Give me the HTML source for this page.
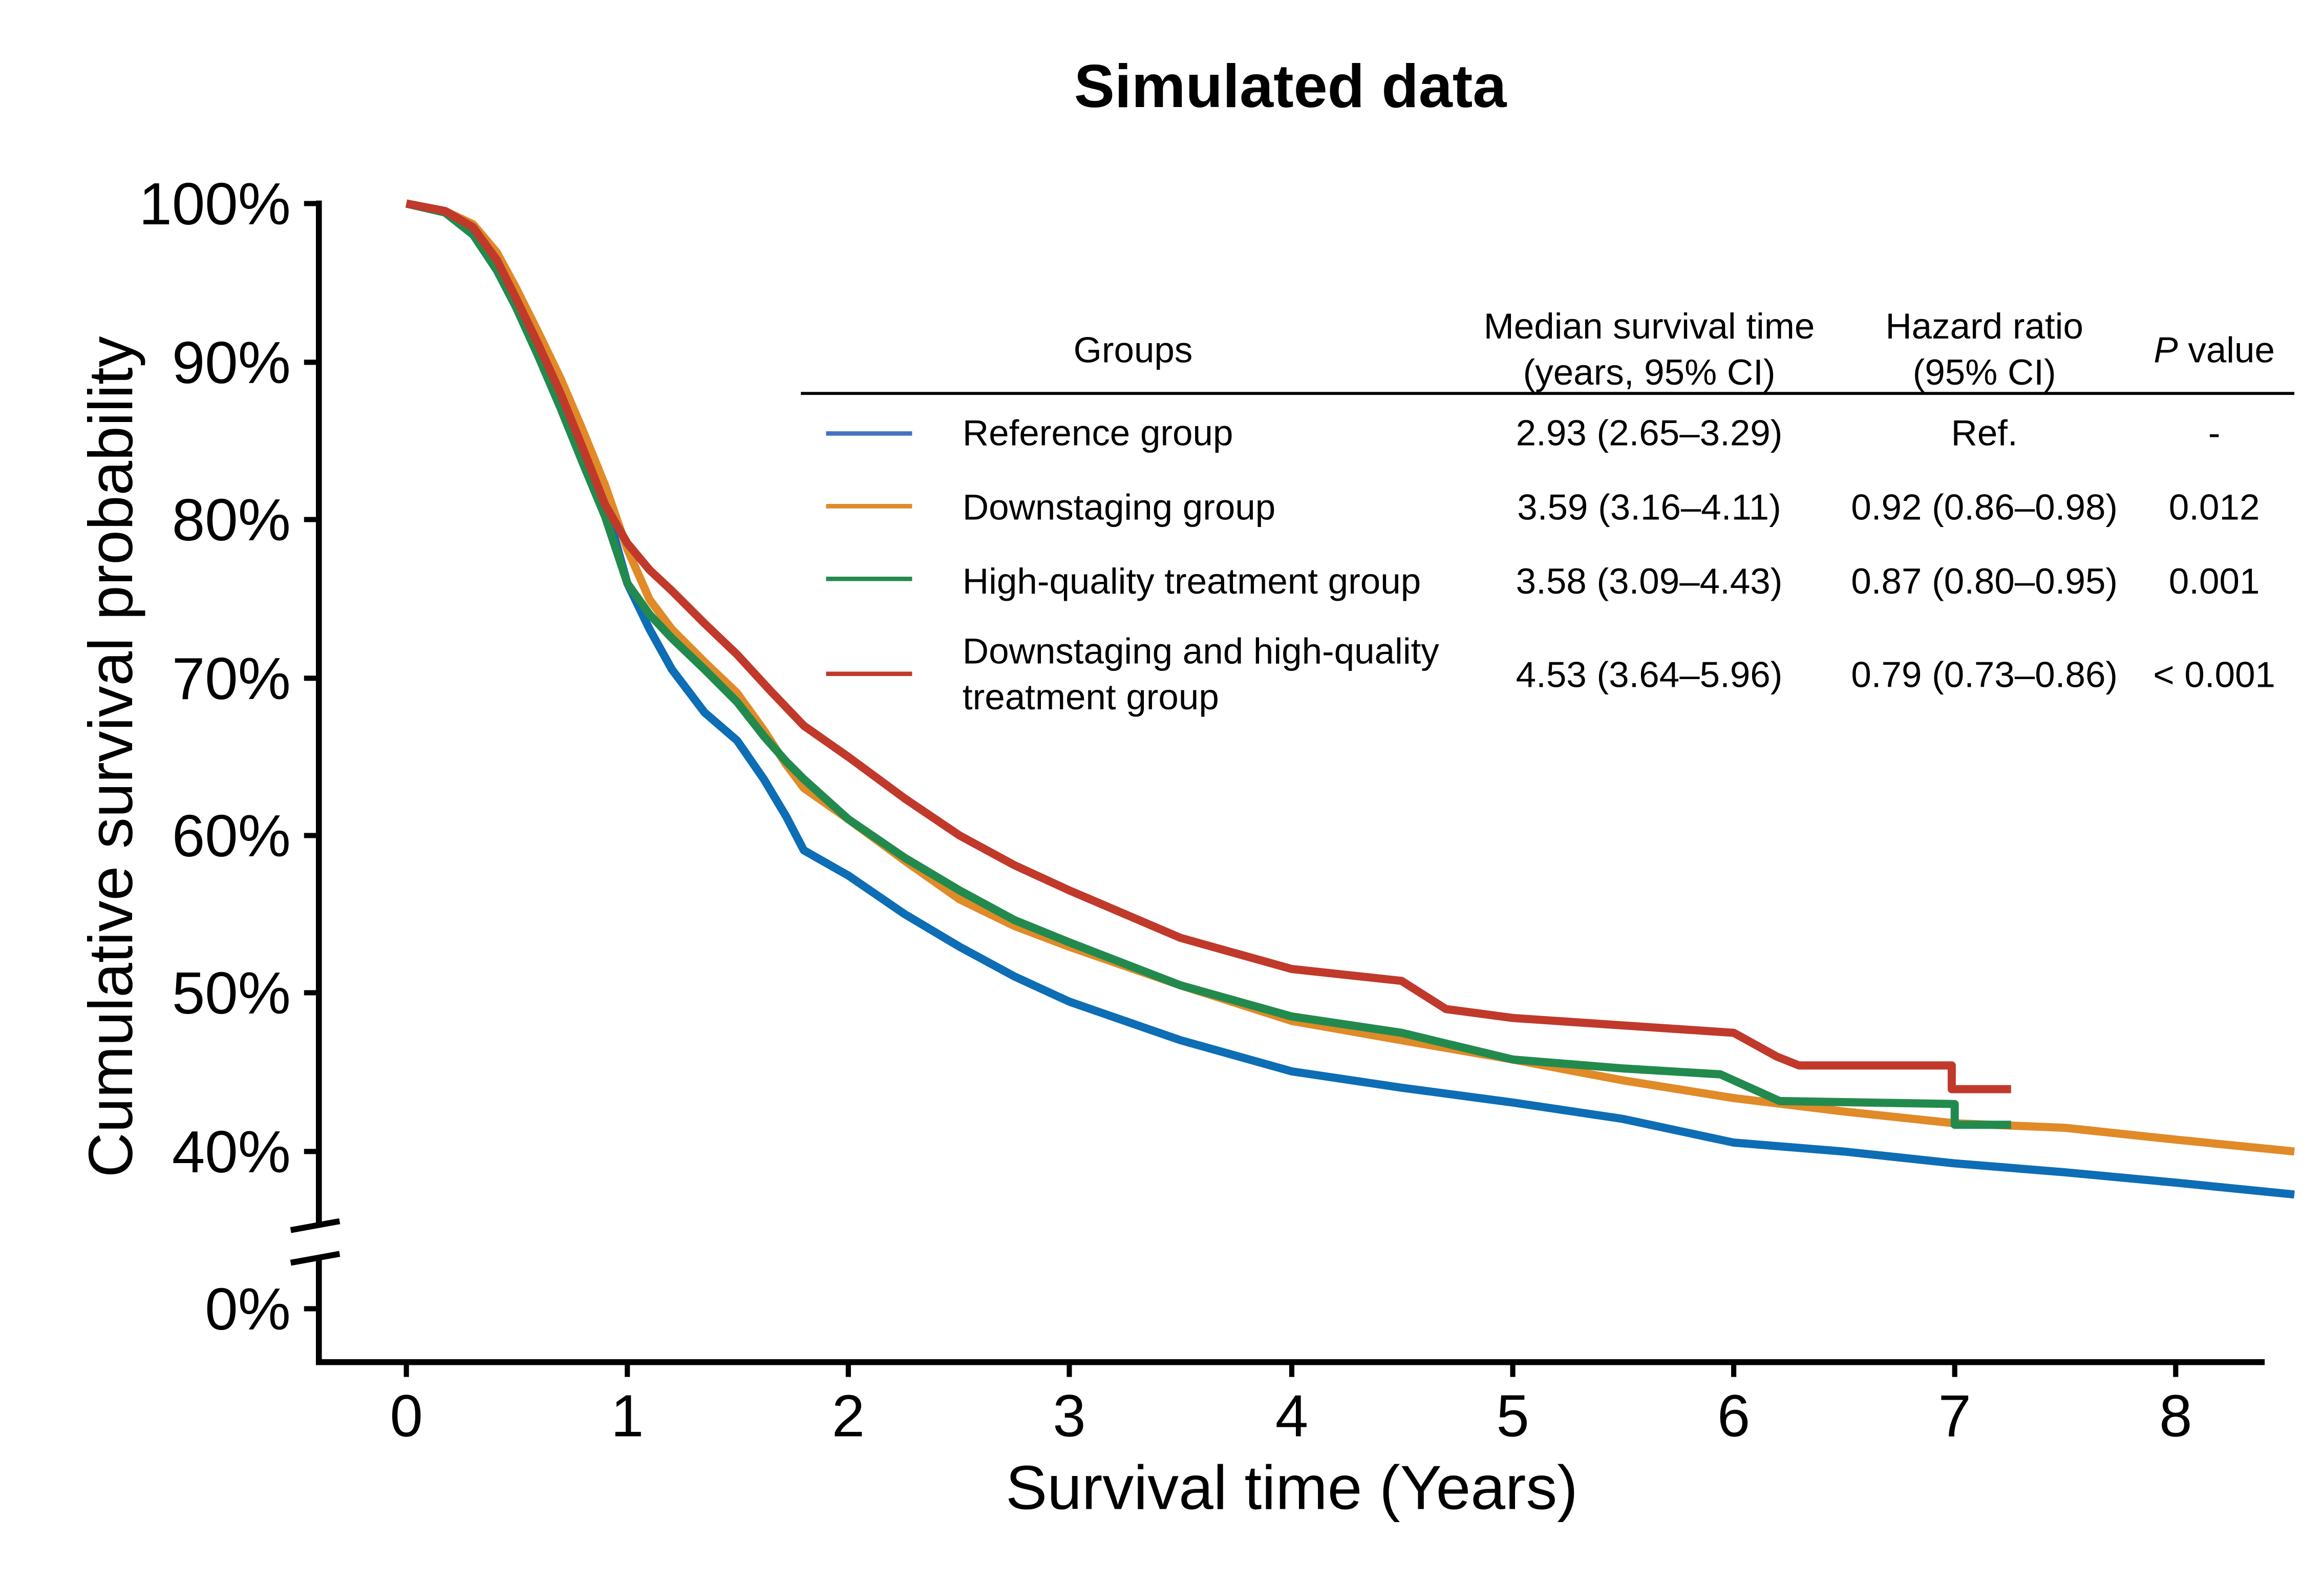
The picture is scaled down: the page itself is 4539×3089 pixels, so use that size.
<!DOCTYPE html>
<html><head><meta charset="utf-8"><style>
html,body{margin:0;padding:0;background:#fff;}
svg{display:block;}
text{font-family:"Liberation Sans",Arial,sans-serif;fill:#000;}
</style></head><body>
<svg width="4539" height="3089" viewBox="0 0 1567 1066" xmlns="http://www.w3.org/2000/svg">
<rect width="1567" height="1066" fill="#fff"/>
<text x="870" y="72" font-size="41" font-weight="bold" text-anchor="middle">Simulated data</text>
<g stroke="#000" stroke-width="4" fill="none">
<line x1="215" y1="135" x2="215" y2="824"/>
<line x1="215" y1="846" x2="215" y2="920"/>
<line x1="213" y1="918" x2="1527" y2="918"/>
<line x1="196" y1="829" x2="229" y2="823"/>
<line x1="196" y1="851" x2="229" y2="845"/>
<g stroke-width="3.5">
<line x1="205" y1="137" x2="215" y2="137"/>
<line x1="205" y1="244" x2="215" y2="244"/>
<line x1="205" y1="350" x2="215" y2="350"/>
<line x1="205" y1="457" x2="215" y2="457"/>
<line x1="205" y1="563" x2="215" y2="563"/>
<line x1="205" y1="669" x2="215" y2="669"/>
<line x1="205" y1="776" x2="215" y2="776"/>
<line x1="205" y1="882" x2="215" y2="882"/>
<line x1="274" y1="918" x2="274" y2="928"/>
<line x1="423" y1="918" x2="423" y2="928"/>
<line x1="572" y1="918" x2="572" y2="928"/>
<line x1="721" y1="918" x2="721" y2="928"/>
<line x1="871" y1="918" x2="871" y2="928"/>
<line x1="1020" y1="918" x2="1020" y2="928"/>
<line x1="1169" y1="918" x2="1169" y2="928"/>
<line x1="1318" y1="918" x2="1318" y2="928"/>
<line x1="1467" y1="918" x2="1467" y2="928"/>
</g>
</g>
<g font-size="40" text-anchor="end">
<text x="196" y="151">100%</text>
<text x="196" y="258">90%</text>
<text x="196" y="364">80%</text>
<text x="196" y="471">70%</text>
<text x="196" y="577">60%</text>
<text x="196" y="683">50%</text>
<text x="196" y="790">40%</text>
<text x="196" y="896">0%</text>
</g>
<g font-size="40" text-anchor="middle">
<text x="274" y="968">0</text>
<text x="423" y="968">1</text>
<text x="572" y="968">2</text>
<text x="721" y="968">3</text>
<text x="871" y="968">4</text>
<text x="1020" y="968">5</text>
<text x="1169" y="968">6</text>
<text x="1318" y="968">7</text>
<text x="1467" y="968">8</text>
</g>
<text x="871" y="1017" font-size="42" text-anchor="middle">Survival time (Years)</text>
<text transform="translate(89,510) rotate(-90)" font-size="42" text-anchor="middle">Cumulative survival probability</text>
<g fill="none" stroke-width="5.5" stroke-linejoin="round">
<polyline stroke="#0d6db5" points="274,137 300,143 319,158 335,178 348,200 363,232 378,264 393,302 408,339 423,393 438,424 453,451 475,480 497,499 515,525 530,550 542,573 572,590 610,616 647,638 684,658 721,675 796,701 871,722 945,733 1020,743 1094,754 1169,770 1243,776 1318,784 1392,790 1467,797 1547,805"/>
<polyline stroke="#e08a28" points="274,137 300,142 319,151 335,170 348,194 363,224 378,255 393,290 408,327 423,370 438,404 453,424 475,446 497,467 515,492 530,515 542,531 572,552 610,580 647,606 684,624 721,638 796,664 871,688 945,701 1020,714 1094,728 1169,740 1243,749 1318,757 1392,760 1467,768 1547,776"/>
<polyline stroke="#238a4e" points="274,137 300,143 319,158 335,182 348,207 363,240 378,275 393,312 408,348 423,393 438,414 453,430 475,451 497,473 515,496 530,513 542,525 572,552 610,578 647,600 684,620 721,635 796,664 871,685 945,696 1020,714 1094,720 1160,724 1200,742 1318,744 1318,758 1356,758"/>
<polyline stroke="#c0392b" points="274,137 300,142 319,153 335,175 348,201 363,232 378,265 393,302 408,340 423,366 438,384 453,398 475,420 497,441 520,466 542,489 572,510 610,538 647,563 684,583 721,600 796,632 871,653 945,661 975,680 1020,686 1094,691 1169,696 1198,712 1213,718 1316,718 1316,734 1356,734"/>
</g>
<g font-size="24.5" text-anchor="middle">
<text x="764" y="244">Groups</text>
<text x="1112" y="228">Median survival time</text>
<text x="1112" y="259">(years, 95% CI)</text>
<text x="1338" y="228">Hazard ratio</text>
<text x="1338" y="259">(95% CI)</text>
<text x="1493" y="244"><tspan font-style="italic">P</tspan> value</text>
</g>
<line x1="540" y1="265" x2="1547" y2="265" stroke="#000" stroke-width="2"/>
<g stroke-width="3">
<line x1="557" y1="292" x2="615" y2="292" stroke="#4472c4"/>
<line x1="557" y1="341" x2="615" y2="341" stroke="#e08a28"/>
<line x1="557" y1="390" x2="615" y2="390" stroke="#238a4e"/>
<line x1="557" y1="454" x2="615" y2="454" stroke="#c0392b"/>
</g>
<g font-size="24.5">
<text x="649" y="300">Reference group</text>
<text x="649" y="350">Downstaging group</text>
<text x="649" y="400">High-quality treatment group</text>
<text x="649" y="447">Downstaging and high-quality</text>
<text x="649" y="478">treatment group</text>
</g>
<g font-size="24.5" text-anchor="middle">
<text x="1112" y="300">2.93 (2.65–3.29)</text>
<text x="1112" y="350">3.59 (3.16–4.11)</text>
<text x="1112" y="400">3.58 (3.09–4.43)</text>
<text x="1112" y="463">4.53 (3.64–5.96)</text>
<text x="1338" y="300">Ref.</text>
<text x="1338" y="350">0.92 (0.86–0.98)</text>
<text x="1338" y="400">0.87 (0.80–0.95)</text>
<text x="1338" y="463">0.79 (0.73–0.86)</text>
<text x="1493" y="300">-</text>
<text x="1493" y="350">0.012</text>
<text x="1493" y="400">0.001</text>
<text x="1493" y="463">&lt; 0.001</text>
</g>
</svg>
</body></html>
